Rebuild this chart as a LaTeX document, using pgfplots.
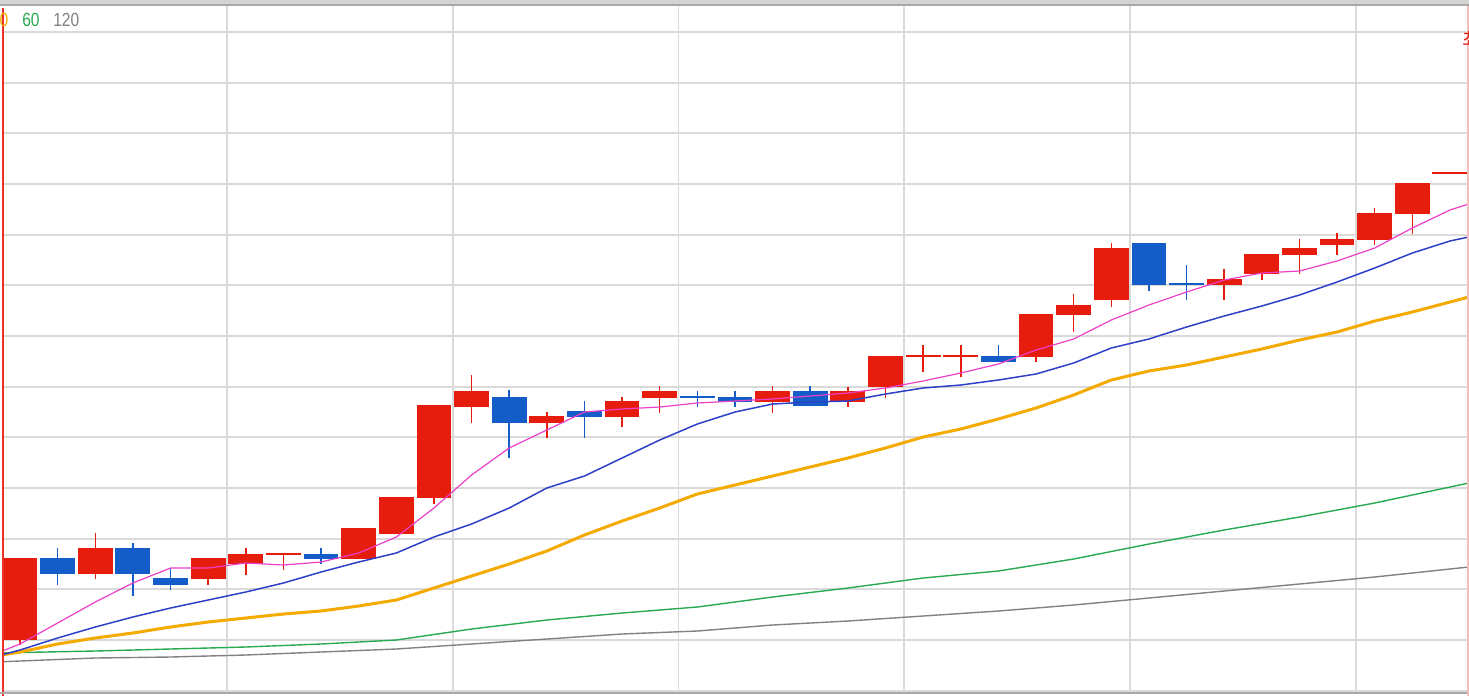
\documentclass[border=0pt]{standalone}
\usepackage{fontspec}
\setmainfont{Liberation Sans}
\newfontfamily\cjk{Noto Sans CJK KR}
\usepackage{pgfplots}
\pgfplotsset{compat=1.18}
\definecolor{cRed}{RGB}{230,28,12}
\definecolor{cBlue}{RGB}{20,92,200}
\definecolor{maPink}{RGB}{236,64,200}
\definecolor{maBlue}{RGB}{45,65,200}
\definecolor{maOrange}{RGB}{245,170,0}
\definecolor{maGreen}{RGB}{40,170,80}
\definecolor{maGray}{RGB}{130,130,130}
\definecolor{gridgray}{RGB}{218,218,218}
\definecolor{topgray}{RGB}{212,212,212}
\definecolor{topdark}{RGB}{168,168,168}
\definecolor{leftred}{RGB}{235,50,40}
\definecolor{rightpink}{RGB}{245,190,190}
\begin{document}
\begin{tikzpicture}
\useasboundingbox (0,0) rectangle (734.5pt,-348pt);
\fill[white] (0,0) rectangle (734.5pt,-348pt);
\fill[topgray] (0,0) rectangle (734.5pt,-2pt);
\fill[topdark] (0,-2pt) rectangle (734.5pt,-3pt);
\begin{axis}[
  at={(1.5pt,-346pt)}, anchor=south west,
  scale only axis, width=733pt, height=343pt,
  xmin=0.5482, xmax=39.506, ymin=6, ymax=692, y dir=reverse,
  axis line style={draw=none},
  xtick={6.5,12.5,18.5,24.5,30.5,36.5},
  ytick={32,82.67,133.33,184,234.67,285.33,336,386.67,437.33,488,538.67,589.33,640,690.67},
  xticklabels={}, yticklabels={}, major tick length=0pt,
  grid=major, major grid style={draw=gridgray, line width=0.9pt},
  unbounded coords=jump, clip=true]
% red wicks
\addplot[cRed, line width=0.75pt] table[row sep=\\] {
x y\\ 1 558\\ 1 645\\ nan nan\\ 3 533\\ 3 579\\ nan nan\\ 6 558\\ 6 585\\ nan nan\\
7 548\\ 7 575\\ nan nan\\ 8 554\\ 8 570\\ nan nan\\ 12 498\\ 12 504\\ nan nan\\
13 375\\ 13 423\\ nan nan\\ 15 412\\ 15 438\\ nan nan\\ 17 397\\ 17 427\\ nan nan\\
18 386\\ 18 413\\ nan nan\\ 21 386\\ 21 413\\ nan nan\\ 23 387\\ 23 407\\ nan nan\\
24 387\\ 24 398\\ nan nan\\ 25 345\\ 25 372\\ nan nan\\ 26 345\\ 26 377\\ nan nan\\
28 357\\ 28 362\\ nan nan\\ 29 294\\ 29 332\\ nan nan\\ 30 243\\ 30 307\\ nan nan\\
33 269\\ 33 300\\ nan nan\\ 34 274\\ 34 280\\ nan nan\\ 35 239\\ 35 274\\ nan nan\\
36 233\\ 36 255\\ nan nan\\ 37 208\\ 37 245\\ nan nan\\ 38 214\\ 38 234\\
};
% blue wicks
\addplot[cBlue, line width=0.75pt] table[row sep=\\] {
x y\\ 2 548\\ 2 585\\ nan nan\\ 4 543\\ 4 596\\ nan nan\\ 5 568\\ 5 590\\ nan nan\\
9 548\\ 9 564\\ nan nan\\ 14 390\\ 14 458\\ nan nan\\ 16 401\\ 16 438\\ nan nan\\
19 391\\ 19 407\\ nan nan\\ 20 391\\ 20 407\\ nan nan\\ 22 386\\ 22 406\\ nan nan\\
27 345\\ 27 362\\ nan nan\\ 31 285\\ 31 291\\ nan nan\\ 32 265\\ 32 300\\
};
% red bodies
\addplot[cRed, line width=17.4pt] table[row sep=\\] {
x y\\ 1 558\\ 1 640\\ nan nan\\ 3 548\\ 3 574\\ nan nan\\ 6 558\\ 6 579\\ nan nan\\
7 554\\ 7 564\\ nan nan\\ 10 528\\ 10 559\\ nan nan\\ 11 497\\ 11 534\\ nan nan\\
12 405\\ 12 498\\ nan nan\\ 13 391\\ 13 407\\ nan nan\\ 15 416\\ 15 423\\ nan nan\\
17 401\\ 17 417\\ nan nan\\ 18 391\\ 18 398\\ nan nan\\ 21 391\\ 21 402\\ nan nan\\
23 391\\ 23 402\\ nan nan\\ 24 356\\ 24 387\\ nan nan\\ 28 314\\ 28 357\\ nan nan\\
29 305\\ 29 315\\ nan nan\\ 30 248\\ 30 300\\ nan nan\\ 33 279\\ 33 285\\ nan nan\\
34 254\\ 34 274\\ nan nan\\ 35 248\\ 35 255\\ nan nan\\ 36 239\\ 36 245\\ nan nan\\
37 213\\ 37 240\\ nan nan\\ 38 183\\ 38 214\\
};
% blue bodies
\addplot[cBlue, line width=17.4pt] table[row sep=\\] {
x y\\ 2 558\\ 2 574\\ nan nan\\ 4 548\\ 4 574\\ nan nan\\ 5 578\\ 5 585\\ nan nan\\
9 554\\ 9 559\\ nan nan\\ 14 397\\ 14 423\\ nan nan\\ 16 411\\ 16 417\\ nan nan\\
20 397\\ 20 402\\ nan nan\\ 22 391\\ 22 406\\ nan nan\\ 27 356\\ 27 362\\ nan nan\\
31 243\\ 31 285\\
};
% red dojis
\addplot[cRed, line width=0.8pt] table[row sep=\\] {
x y\\ 7.535 554\\ 8.465 554\\ nan nan\\ 24.535 356\\ 25.465 356\\ nan nan\\
25.535 356\\ 26.465 356\\ nan nan\\ 38.535 173\\ 39.465 173\\
};
% blue dojis
\addplot[cBlue, line width=0.8pt] table[row sep=\\] {
x y\\ 18.535 397\\ 19.465 397\\ nan nan\\ 31.535 284\\ 32.465 284\\
};
% MA gray (120)
\addplot[maGray, line width=0.7pt] table[row sep=\\] {
x y\\ 0 662.5\\ 1 661\\ 3 658\\ 5 657\\ 7 655\\ 9 652\\ 11 649\\ 13 644\\ 15 639\\
17 634\\ 19 631\\ 21 625\\ 23 621\\ 25 616\\ 27 611\\ 29 605\\ 31 598\\ 33 591\\
35 584\\ 37 577\\ 39 569\\ 40 565\\
};
% MA green (60)
\addplot[maGreen, line width=0.7pt] table[row sep=\\] {
x y\\ 0 653.5\\ 1 652.5\\ 3 651\\ 5 649\\ 7 647\\ 9 644\\ 11 640\\ 13 629\\ 15 620\\
17 613\\ 19 607\\ 21 597\\ 23 588\\ 25 578\\ 27 571\\ 29 559\\ 31 544\\ 33 530\\
35 517\\ 37 503\\ 39 487\\ 40 479\\
};
% MA orange
\addplot[maOrange, line width=1.5pt] table[row sep=\\] {
x y\\ 0 658\\ 1 652\\ 2 644\\ 3 638\\ 4 633\\ 5 627\\ 6 622\\ 7 618\\ 8 614\\ 9 611\\
10 606\\ 11 600\\ 12 588\\ 13 576\\ 14 564\\ 15 551\\ 16 535\\ 17 521\\ 18 508\\
19 494\\ 20 485\\ 21 476\\ 22 467\\ 23 458\\ 24 448\\ 25 437\\ 26 429\\ 27 419\\
28 408\\ 29 395\\ 30 380\\ 31 371\\ 32 365\\ 33 357\\ 34 349\\ 35 340\\ 36 332\\
37 321\\ 38 312\\ 39 302\\ 40 292\\
};
% MA blue
\addplot[maBlue, line width=0.75pt] table[row sep=\\] {
x y\\ 0 660\\ 1 650\\ 2 638\\ 3 627\\ 4 617\\ 5 608\\ 6 600\\ 7 592\\ 8 583\\ 9 572\\
10 562\\ 11 553\\ 12 537\\ 13 524\\ 14 508\\ 15 488\\ 16 476\\ 17 458\\ 18 440\\
19 424\\ 20 412\\ 21 404\\ 22 402\\ 23 401\\ 24 394\\ 25 388\\ 26 385\\ 27 380\\
28 374\\ 29 363\\ 30 348\\ 31 339\\ 32 327\\ 33 316\\ 34 306\\ 35 295\\ 36 282\\
37 268\\ 38 253\\ 39 241\\ 40 233\\
};
% MA pink
\addplot[maPink, line width=0.6pt] table[row sep=\\] {
x y\\ 0 659\\ 1 644\\ 2 623\\ 3 602\\ 4 583\\ 5 568\\ 6 568\\ 7 563\\ 8 565\\ 9 562\\
10 553\\ 11 537\\ 12 508\\ 13 475\\ 14 448\\ 15 430\\ 16 412\\ 17 409\\ 18 407\\
19 403\\ 20 401\\ 21 399\\ 22 396\\ 23 393\\ 24 388\\ 25 381\\ 26 373\\ 27 364\\
28 350\\ 29 339\\ 30 320\\ 31 305\\ 32 292\\ 33 280\\ 34 273\\ 35 271\\ 36 261\\
37 248\\ 38 228\\ 39 210\\ 40 198\\
};
\end{axis}
\draw[leftred, line width=0.6pt] (1.5pt,-4pt) -- (1.5pt,-348pt);
\draw[topdark, line width=0.8pt] (0,-346.4pt) -- (734.5pt,-346.4pt);
\draw[rightpink, line width=0.7pt] (733.9pt,-3pt) -- (733.9pt,-348pt);
\node[anchor=base east, inner sep=0, text=maOrange, font=\fontsize{9.5}{10}\selectfont, xscale=0.82] at (4.3pt,-13pt) {20};
\node[anchor=base west, inner sep=0, text=maGreen, font=\fontsize{9.5}{10}\selectfont, xscale=0.82] at (11pt,-13pt) {60};
\node[anchor=base west, inner sep=0, text=maGray, font=\fontsize{9.5}{10}\selectfont, xscale=0.82] at (26.5pt,-13pt) {120};
\node[anchor=north west, inner sep=0, text=cRed, font=\cjk\fontsize{10}{10}\selectfont] at (731.2pt,-15.3pt) {최고};
\end{tikzpicture}
\end{document}
